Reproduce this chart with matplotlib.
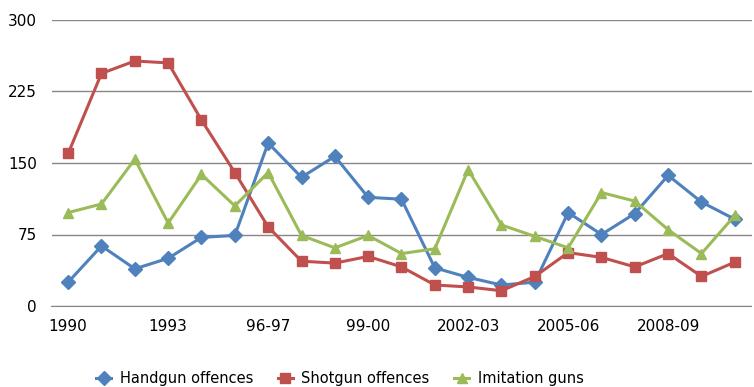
import matplotlib.pyplot as plt

# categories (only every third one gets a label on the axis)
years = ["1990", "1991", "1992", "1993", "1994", "1995", "96-97", "97-98",
         "98-99", "99-00", "00-01", "01-02", "2002-03", "03-04", "04-05",
         "2005-06", "06-07", "07-08", "2008-09", "09-10", "10-11"]

handgun = [25, 63, 39, 50, 72, 74, 171, 135, 157, 114, 112, 40, 30, 22,
           25, 98, 75, 97, 137, 109, 91]
shotgun = [160, 244, 257, 255, 195, 140, 83, 47, 45, 52, 41, 22, 20, 16,
           31, 56, 51, 41, 55, 31, 46]
imitation = [98, 107, 154, 87, 138, 105, 140, 74, 61, 74, 55, 60, 143, 85,
             73, 61, 119, 110, 80, 55, 95]

fig = plt.figure(figsize=(7.54, 3.87), dpi=100)
ax = fig.add_axes([51.5/754, 1-306/387, 700/754, 286/387])

x = list(range(len(years)))
ax.plot(x, handgun, color='#4F81BD', marker='D', markersize=7, lw=2.2, label='Handgun offences')
ax.plot(x, shotgun, color='#C0504D', marker='s', markersize=7, lw=2.2, label='Shotgun offences')
ax.plot(x, imitation, color='#9BBB59', marker='^', markersize=7, lw=2.2, label='Imitation guns')

ax.set_xlim(-0.5, len(years)-0.5)
ax.set_ylim(0, 300)
ax.set_yticks([0, 75, 150, 225, 300])
ax.set_xticks(x[::3])
ax.set_xticklabels(years[::3])
ax.yaxis.grid(True, color='#868686', lw=1)
ax.set_axisbelow(True)
for s in ['top', 'right', 'left']:
    ax.spines[s].set_visible(False)
ax.spines['bottom'].set_color('#868686')
ax.tick_params(axis='both', length=0, labelsize=11, colors='black')
ax.tick_params(axis='y', pad=10.5)
ax.tick_params(axis='x', pad=9.5)

fig.legend(loc='center', bbox_to_anchor=(340/754, 1-379/387), ncol=3, frameon=False,
           fontsize=10.5, handlelength=1.0, columnspacing=1.7, handletextpad=0.6)

plt.savefig('out.png', dpi=100)
